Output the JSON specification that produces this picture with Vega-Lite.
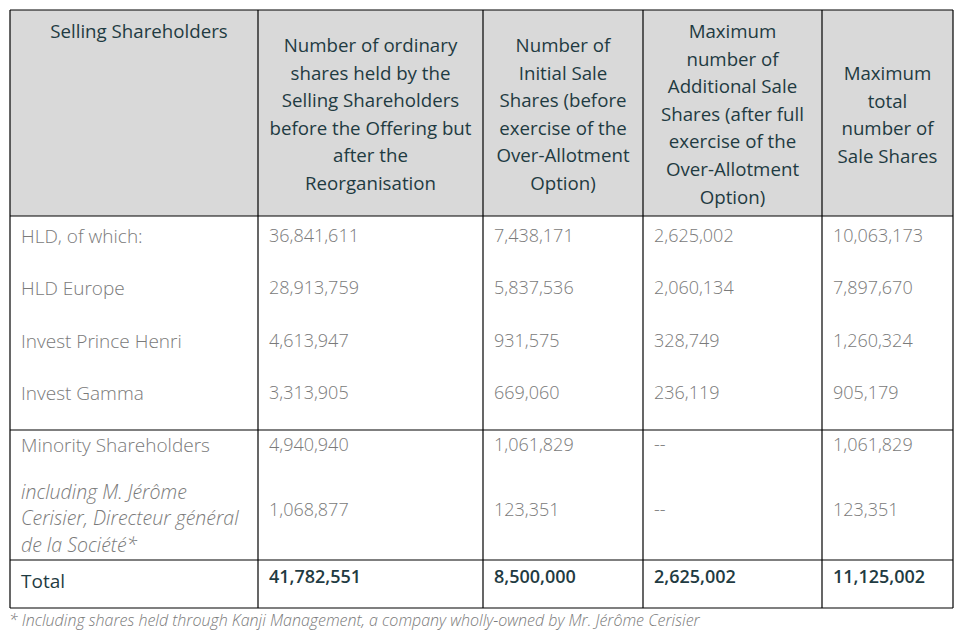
{
  "$schema": "https://vega.github.io/schema/vega-lite/v6.json",
  "width": 967,
  "height": 637,
  "padding": 0,
  "autosize": {"type": "fit", "contains": "padding"},
  "background": "white",
  "view": {"stroke": null},
  "config": {"font": "Open Sans"},
  "datasets": {
    "bg": [{"x0": 0, "x1": 5, "y0": 0, "y1": 1}],
    "hlines": [
      {"y": 0, "x0": 0, "x1": 5},
      {"y": 1, "x0": 0, "x1": 5},
      {"y": 5, "x0": 0, "x1": 5},
      {"y": 7, "x0": 0, "x1": 5},
      {"y": 8, "x0": 0, "x1": 5}
    ],
    "vlines": [
      {"x": 0, "y0": 0, "y1": 8},
      {"x": 1, "y0": 0, "y1": 8},
      {"x": 2, "y0": 0, "y1": 8},
      {"x": 3, "y0": 0, "y1": 8},
      {"x": 4, "y0": 0, "y1": 8},
      {"x": 5, "y0": 0, "y1": 8}
    ],
    "headers": [
      {"xc": 0.52, "y": 0.107, "lines": ["Selling Shareholders"]},
      {"xc": 1.5, "y": 0.175, "lines": ["Number of ordinary", "shares held by the", "Selling Shareholders", "before the Offering but", "after the", "Reorganisation"]},
      {"xc": 2.5, "y": 0.175, "lines": ["Number of", "Initial Sale", "Shares (before", "exercise of the", "Over-Allotment", "Option)"]},
      {"xc": 3.5, "y": 0.107, "lines": ["Maximum", "number of", "Additional Sale", "Shares (after full", "exercise of the", "Over-Allotment", "Option)"]},
      {"xc": 4.5, "y": 0.311, "lines": ["Maximum", "total", "number of", "Sale Shares"]}
    ],
    "body": [
      {"col": 0, "y": 1.5, "text": "HLD, of which:"},
      {"col": 1, "y": 1.5, "text": "36,841,611"},
      {"col": 2, "y": 1.5, "text": "7,438,171"},
      {"col": 3, "y": 1.5, "text": "2,625,002"},
      {"col": 4, "y": 1.5, "text": "10,063,173"},
      {"col": 0, "y": 2.5, "text": "HLD Europe"},
      {"col": 1, "y": 2.5, "text": "28,913,759"},
      {"col": 2, "y": 2.5, "text": "5,837,536"},
      {"col": 3, "y": 2.5, "text": "2,060,134"},
      {"col": 4, "y": 2.5, "text": "7,897,670"},
      {"col": 0, "y": 3.5, "text": "Invest Prince Henri"},
      {"col": 1, "y": 3.5, "text": "4,613,947"},
      {"col": 2, "y": 3.5, "text": "931,575"},
      {"col": 3, "y": 3.5, "text": "328,749"},
      {"col": 4, "y": 3.5, "text": "1,260,324"},
      {"col": 0, "y": 4.5, "text": "Invest Gamma"},
      {"col": 1, "y": 4.5, "text": "3,313,905"},
      {"col": 2, "y": 4.5, "text": "669,060"},
      {"col": 3, "y": 4.5, "text": "236,119"},
      {"col": 4, "y": 4.5, "text": "905,179"},
      {"col": 0, "y": 5.5, "text": "Minority Shareholders"},
      {"col": 1, "y": 5.5, "text": "4,940,940"},
      {"col": 2, "y": 5.5, "text": "1,061,829"},
      {"col": 3, "y": 5.5, "text": "--"},
      {"col": 4, "y": 5.5, "text": "1,061,829"},
      {"col": 1, "y": 6.5, "text": "1,068,877"},
      {"col": 2, "y": 6.5, "text": "123,351"},
      {"col": 3, "y": 6.5, "text": "--"},
      {"col": 4, "y": 6.5, "text": "123,351"}
    ],
    "italic": [
      {"col": 0, "y": 6.223, "lines": ["including M. Jérôme", "Cerisier, Directeur général", "de la Société*"]}
    ],
    "totalLabel": [{"col": 0, "y": 7.5, "text": "Total"}],
    "totals": [
      {"col": 1, "y": 7.5, "text": "41,782,551"},
      {"col": 2, "y": 7.5, "text": "8,500,000"},
      {"col": 3, "y": 7.5, "text": "2,625,002"},
      {"col": 4, "y": 7.5, "text": "11,125,002"}
    ],
    "foot": [{"col": 0, "y": 8.5, "text": "* Including shares held through Kanji Management, a company wholly-owned by Mr. Jérôme Cerisier"}]
  },
  "layer": [
    {
      "data": {"name": "bg"},
      "mark": {"type": "rect", "color": "#d9d9d9"},
      "encoding": {
        "x": {"field": "x0", "type": "quantitative", "axis": null, "scale": {"domain": [0, 1, 2, 3, 4, 5], "range": [10, 258, 483, 643, 822, 953], "nice": false, "zero": false}},
        "x2": {"field": "x1"},
        "y": {"field": "y0", "type": "quantitative", "axis": null, "scale": {"domain": [0, 1, 1.5, 4.5, 5, 5.5, 6.5, 7, 7.5, 8, 8.5], "range": [10, 216, 237, 394, 430, 446, 511, 560, 578, 608, 621], "nice": false, "zero": false}},
        "y2": {"field": "y1"}
      }
    },
    {
      "data": {"name": "hlines"},
      "mark": {"type": "rule", "color": "#000000", "strokeWidth": 1.2},
      "encoding": {
        "x": {"field": "x0", "type": "quantitative"},
        "x2": {"field": "x1"},
        "y": {"field": "y", "type": "quantitative"}
      }
    },
    {
      "data": {"name": "vlines"},
      "mark": {"type": "rule", "color": "#000000", "strokeWidth": 1.2},
      "encoding": {
        "x": {"field": "x", "type": "quantitative"},
        "y": {"field": "y0", "type": "quantitative"},
        "y2": {"field": "y1"}
      }
    },
    {
      "data": {"name": "headers"},
      "mark": {"type": "text", "align": "center", "baseline": "middle", "fontSize": 18.7, "lineHeight": 27.6, "color": "#1f3b42"},
      "encoding": {
        "x": {"field": "xc", "type": "quantitative"},
        "y": {"field": "y", "type": "quantitative"},
        "text": {"field": "lines"}
      }
    },
    {
      "data": {"name": "body"},
      "transform": [{"filter": "datum.col > 0"}],
      "mark": {"type": "text", "align": "left", "baseline": "middle", "dx": 11, "fontSize": 18, "fontWeight": 300, "color": "#7a7a7a"},
      "encoding": {
        "x": {"field": "col", "type": "quantitative"},
        "y": {"field": "y", "type": "quantitative"},
        "text": {"field": "text"}
      }
    },
    {
      "data": {"name": "body"},
      "transform": [{"filter": "datum.col == 0"}],
      "mark": {"type": "text", "align": "left", "baseline": "middle", "dx": 11, "fontSize": 19, "fontWeight": 300, "color": "#7a7a7a"},
      "encoding": {
        "x": {"field": "col", "type": "quantitative"},
        "y": {"field": "y", "type": "quantitative"},
        "text": {"field": "text"}
      }
    },
    {
      "data": {"name": "italic"},
      "mark": {"type": "text", "align": "left", "baseline": "middle", "dx": 11, "fontSize": 19.5, "fontWeight": 300, "fontStyle": "italic", "lineHeight": 26.5, "color": "#7a7a7a"},
      "encoding": {
        "x": {"field": "col", "type": "quantitative"},
        "y": {"field": "y", "type": "quantitative"},
        "text": {"field": "lines"}
      }
    },
    {
      "data": {"name": "totalLabel"},
      "mark": {"type": "text", "align": "left", "baseline": "middle", "dx": 11, "dy": 4, "fontSize": 19, "color": "#1f3b42"},
      "encoding": {
        "x": {"field": "col", "type": "quantitative"},
        "y": {"field": "y", "type": "quantitative"},
        "text": {"field": "text"}
      }
    },
    {
      "data": {"name": "totals"},
      "mark": {"type": "text", "align": "left", "baseline": "middle", "dx": 11, "fontSize": 18, "fontWeight": 600, "color": "#1f3b42"},
      "encoding": {
        "x": {"field": "col", "type": "quantitative"},
        "y": {"field": "y", "type": "quantitative"},
        "text": {"field": "text"}
      }
    },
    {
      "data": {"name": "foot"},
      "mark": {"type": "text", "align": "left", "baseline": "middle", "dx": -1, "fontSize": 16, "fontWeight": 300, "fontStyle": "italic", "color": "#7a7a7a"},
      "encoding": {
        "x": {"field": "col", "type": "quantitative"},
        "y": {"field": "y", "type": "quantitative"},
        "text": {"field": "text"}
      }
    }
  ]
}
